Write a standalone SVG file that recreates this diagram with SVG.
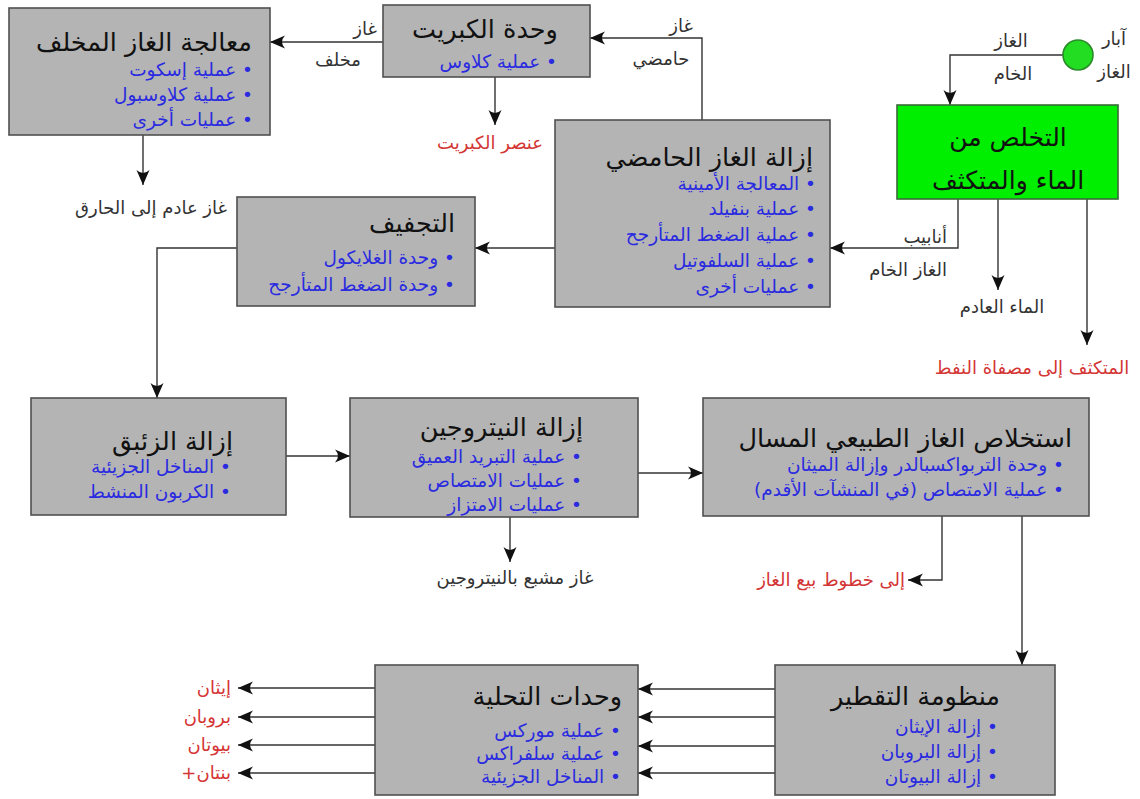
<svg xmlns="http://www.w3.org/2000/svg" width="1140" height="799" viewBox="0 0 1140 799">
<style>
.box{fill:#b4b4b4;stroke:#505050;stroke-width:1.6}
.green{fill:#00ee00;stroke:#3a6a3a;stroke-width:1.6}
text{font-family:"DejaVu Sans",sans-serif}
.t{font-size:25.5px;fill:#111;direction:rtl}
.b{font-size:18.5px;fill:#2a2ae0;direction:rtl}
.l{font-size:18px;fill:#333;direction:rtl}
.r{font-size:18px;fill:#d43535;direction:rtl}
.c{fill:none;stroke:#333;stroke-width:1.4}
</style>
<defs>
<marker id="ah" markerUnits="userSpaceOnUse" markerWidth="18" markerHeight="16" viewBox="-16 -8 18 16" refX="0" refY="0" orient="auto">
<path d="M0,0 L-15,-6.5 Q-9,0 -15,6.5 Z" fill="#111"/>
</marker>
</defs>
<rect width="1140" height="799" fill="#fff"/>
<g id="connectors" class="c" marker-end="url(#ah)">
<path d="M1063,55 H950 V105"/>
<path d="M958,199 V248 H830"/>
<path d="M998,199 V290"/>
<path d="M1087,199 V345"/>
<path d="M702,120 V38 H590"/>
<path d="M383,42 H270"/>
<path d="M495,77 V125"/>
<path d="M143,135 V185"/>
<path d="M555,248 H475"/>
<path d="M237,248 H157 V398"/>
<path d="M286,456 H350"/>
<path d="M638,473 H703"/>
<path d="M510,517 V562"/>
<path d="M942,516 V580 H908"/>
<path d="M1022,516 V665"/>
<path d="M775,689 H638"/>
<path d="M775,717 H638"/>
<path d="M775,746 H638"/>
<path d="M775,773 H638"/>
<path d="M375,688 H238"/>
<path d="M375,717 H238"/>
<path d="M375,745 H238"/>
<path d="M375,773 H238"/>
</g>
<g id="labels">
<text class="l" x="365" y="35" text-anchor="middle">غاز</text>
<text class="l" x="338" y="66" text-anchor="middle">مخلف</text>
<text class="l" x="681" y="32" text-anchor="middle">غاز</text>
<text class="l" x="661" y="65" text-anchor="middle">حامضي</text>
<text class="r" x="490" y="149" text-anchor="middle">عنصر الكبريت</text>
<text class="l" x="151" y="214" text-anchor="middle">غاز عادم إلى الحارق</text>
<text class="l" x="1011" y="47" text-anchor="middle">الغاز</text>
<text class="l" x="1013" y="80" text-anchor="middle">الخام</text>
<text class="l" x="1114" y="45" text-anchor="middle">آبار</text>
<text class="l" x="1114" y="78" text-anchor="middle">الغاز</text>
<text class="l" x="947" y="243" text-anchor="start">أنابيب</text>
<text class="l" x="947" y="276" text-anchor="start">الغاز الخام</text>
<text class="l" x="1002" y="313" text-anchor="middle">الماء العادم</text>
<text class="r" x="1032" y="374" text-anchor="middle">المتكثف إلى مصفاة النفط</text>
<text class="l" x="515" y="584" text-anchor="middle">غاز مشبع بالنيتروجين</text>
<text class="r" x="905" y="586" text-anchor="start">إلى خطوط بيع الغاز</text>
<text class="r" x="231" y="694" text-anchor="start">إيثان</text>
<text class="r" x="231" y="723" text-anchor="start">بروبان</text>
<text class="r" x="231" y="751" text-anchor="start">بيوتان</text>
<text class="r" x="231" y="779" text-anchor="start">بنتان+</text>
</g>
<g id="wells">
<circle cx="1078" cy="55" r="15" fill="#22dd22" stroke="#2a8a2a" stroke-width="1.6"/>
</g>
<g id="dehydration-condensate">
<rect class="green" x="897" y="105" width="221" height="94"/>
<text class="t" x="1008" y="146" text-anchor="middle" style="font-size:25px">التخلص من</text>
<text class="t" x="1008" y="189" text-anchor="middle" style="font-size:25px">الماء والمتكثف</text>
</g>
<g id="tail-gas">
<rect class="box" x="9" y="8" width="261" height="127"/>
<text class="t" x="252" y="51" text-anchor="start">معالجة الغاز المخلف</text>
<text class="b" x="253" y="76" text-anchor="start">• عملية إسكوت</text>
<text class="b" x="253" y="101" text-anchor="start">• عملية كلاوسبول</text>
<text class="b" x="253" y="126" text-anchor="start">• عمليات أخرى</text>
</g>
<g id="sulfur-unit">
<rect class="box" x="383" y="5" width="207" height="72"/>
<text class="t" x="485" y="38" text-anchor="middle">وحدة الكبريت</text>
<text class="b" x="557" y="68" text-anchor="start">• عملية كلاوس</text>
</g>
<g id="acid-gas">
<rect class="box" x="555" y="120" width="275" height="187"/>
<text class="t" x="813" y="166" text-anchor="start">إزالة الغاز الحامضي</text>
<text class="b" x="816" y="190" text-anchor="start">• المعالجة الأمينية</text>
<text class="b" x="816" y="215" text-anchor="start">• عملية بنفيلد</text>
<text class="b" x="816" y="241" text-anchor="start">• عملية الضغط المتأرجح</text>
<text class="b" x="816" y="267" text-anchor="start">• عملية السلفوتيل</text>
<text class="b" x="816" y="293" text-anchor="start">• عمليات أخرى</text>
</g>
<g id="dehydration">
<rect class="box" x="237" y="197" width="238" height="109"/>
<text class="t" x="455" y="232" text-anchor="start">التجفيف</text>
<text class="b" x="455" y="264" text-anchor="start">• وحدة الغلايكول</text>
<text class="b" x="455" y="291" text-anchor="start">• وحدة الضغط المتأرجح</text>
</g>
<g id="mercury">
<rect class="box" x="31" y="398" width="255" height="117"/>
<text class="t" x="233" y="450" text-anchor="start">إزالة الزئبق</text>
<text class="b" x="231" y="473" text-anchor="start">• المناخل الجزيئية</text>
<text class="b" x="231" y="498" text-anchor="start">• الكربون المنشط</text>
</g>
<g id="nitrogen">
<rect class="box" x="350" y="398" width="288" height="119"/>
<text class="t" x="583" y="436" text-anchor="start">إزالة النيتروجين</text>
<text class="b" x="582" y="463" text-anchor="start">• عملية التبريد العميق</text>
<text class="b" x="582" y="487" text-anchor="start">• عمليات الامتصاص</text>
<text class="b" x="582" y="511" text-anchor="start">• عمليات الامتزاز</text>
</g>
<g id="ngl">
<rect class="box" x="703" y="398" width="386" height="118"/>
<text class="t" x="1072" y="447" text-anchor="start">استخلاص الغاز الطبيعي المسال</text>
<text class="b" x="1064" y="471" text-anchor="start">• وحدة التربواكسبالدر وإزالة الميثان</text>
<text class="b" x="1064" y="496" text-anchor="start">• عملية الامتصاص (في المنشآت الأقدم)</text>
</g>
<g id="fractionation">
<rect class="box" x="775" y="665" width="280" height="130"/>
<text class="t" x="1000" y="705" text-anchor="start">منظومة التقطير</text>
<text class="b" x="998" y="733" text-anchor="start">• إزالة الإيثان</text>
<text class="b" x="998" y="758" text-anchor="start">• إزالة البروبان</text>
<text class="b" x="998" y="783" text-anchor="start">• إزالة البيوتان</text>
</g>
<g id="sweetening">
<rect class="box" x="375" y="665" width="263" height="130"/>
<text class="t" x="622" y="705" text-anchor="start">وحدات التحلية</text>
<text class="b" x="621" y="737" text-anchor="start">• عملية موركس</text>
<text class="b" x="621" y="760" text-anchor="start">• عملية سلفراكس</text>
<text class="b" x="621" y="783" text-anchor="start">• المناخل الجزيئية</text>
</g>
</svg>
